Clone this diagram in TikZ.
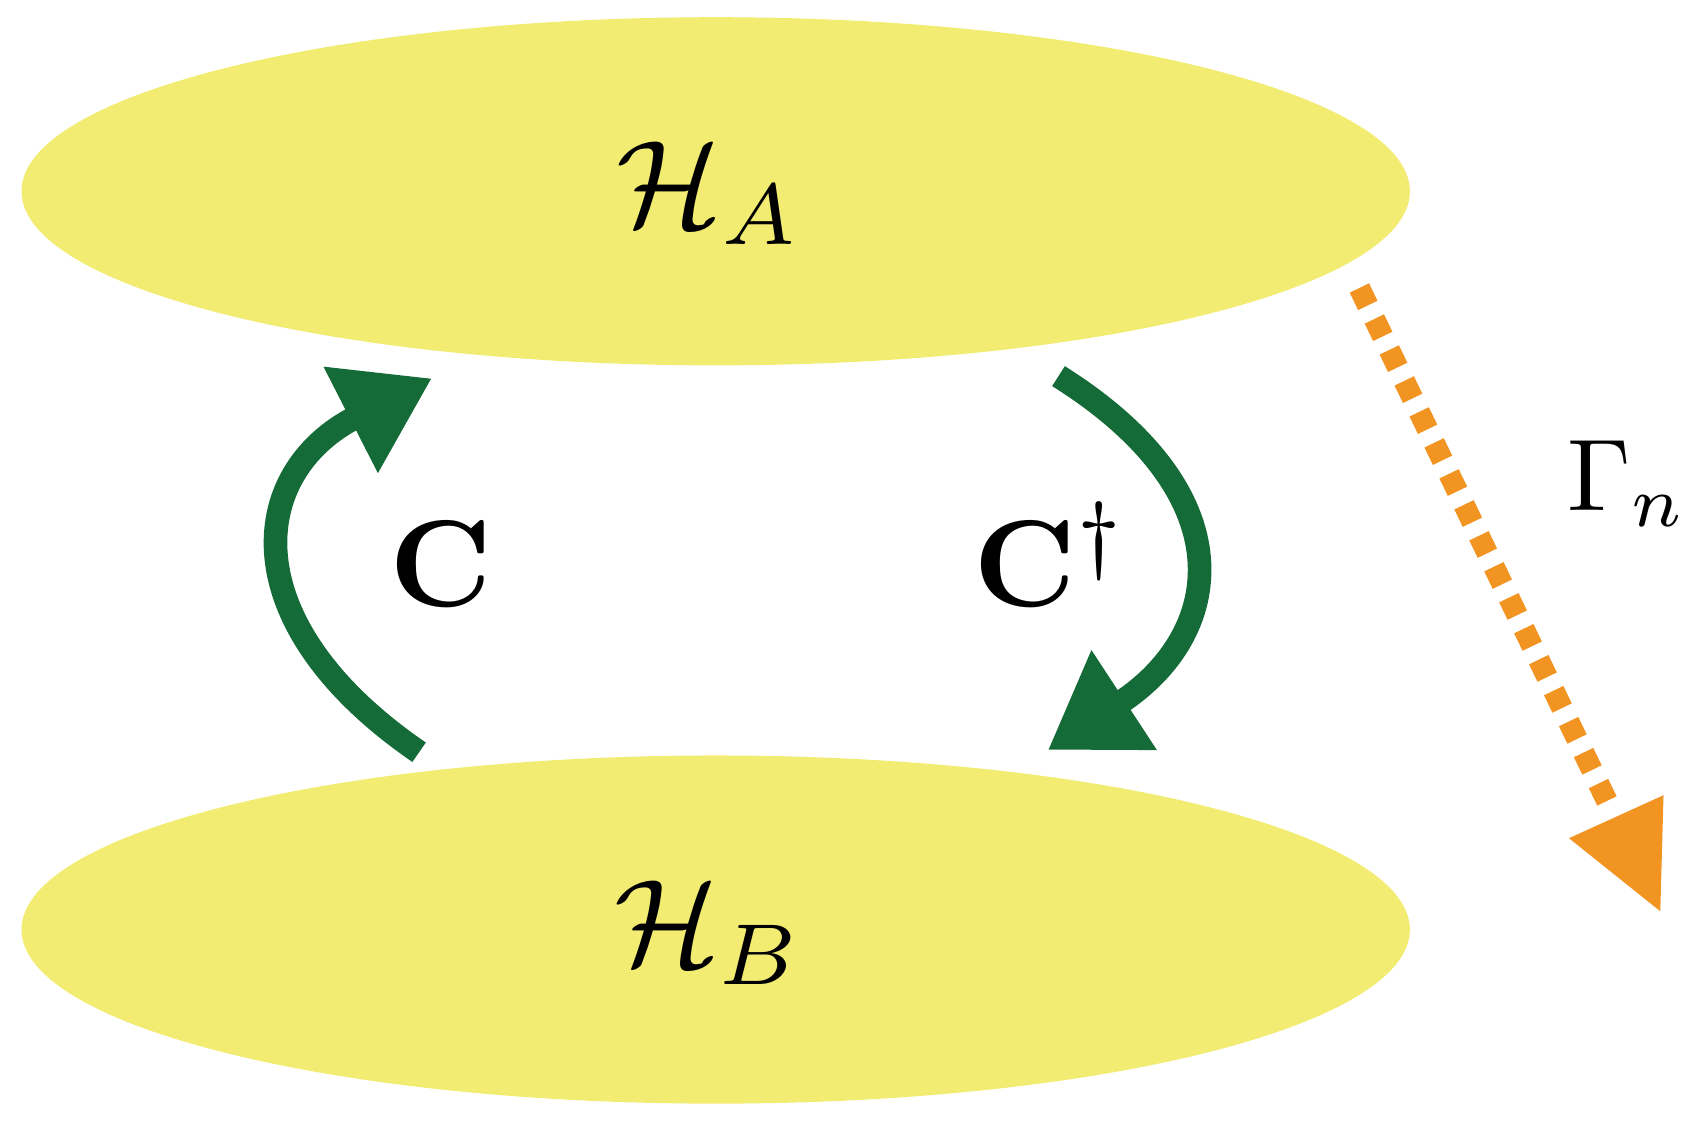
\documentclass[tikz,border=0pt]{standalone}
\usepackage{amsmath}
\usetikzlibrary{arrows.meta}
\definecolor{ylw}{HTML}{F2EC72}
\definecolor{grn}{HTML}{146B38}
\definecolor{org}{HTML}{F29422}
\begin{document}
\begin{tikzpicture}[x=1pt,y=-1pt,
  big/.style={scale=11.5},
  garrow/.style={grn,line width=22pt,-{Triangle[length=85pt,width=105pt]}}]
\useasboundingbox (0,0) rectangle (1568,1050);
\fill[ylw] (666,178) ellipse[x radius=646,y radius=162];
\fill[ylw] (666,865) ellipse[x radius=646,y radius=162];
\node[big] (ha) at (660,180) {$\mathcal{H}_A$};
\node[big] (hb) at (660,868) {$\mathcal{H}_B$};
\coordinate (l1) at (390,700);
\coordinate (l2) at (402,352);
\coordinate (r1) at (985,350);
\coordinate (r2) at (975,698);
\draw[garrow] (l1) .. controls (215,580) and (230,440) .. (l2);
\draw[garrow] (r1) .. controls (1160,460) and (1140,590) .. (r2);
\node[big] (c) at (410,525) {$\mathbf{C}$};
\node[big] (cd) at (978,516) {$\mathbf{C}^\dagger$};
\coordinate (o1) at (1265,268);
\coordinate (o2) at (1545,848);
\draw[org,line width=20pt,dash pattern=on 18pt off 14pt] (o1) -- (1500,755);
\fill[org] (o2) -- (1548,740) -- (1460,780) -- cycle;
\node[scale=9.5,anchor=west] (g) at (1425,450) {$\Gamma_n$};
\end{tikzpicture}
\end{document}
